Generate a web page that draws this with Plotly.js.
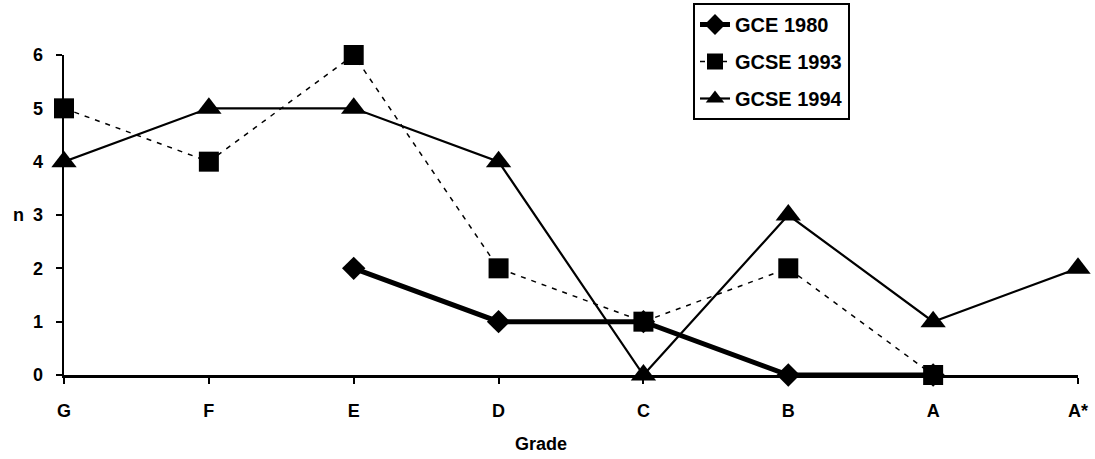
<!DOCTYPE html>
<html>
<head>
<meta charset="utf-8">
<script src="https://cdn.plot.ly/plotly-3.0.1.min.js"></script>
<style>html,body{margin:0;padding:0;background:#fff;}#chart{width:1095px;height:459px;}</style>
</head>
<body>
<div id="chart"></div>
<script>
const grades = ["G", "F", "E", "D", "C", "B", "A", "A*"];
const gce1980 = [null, null, 2, 1, 1, 0, 0, null];
const gcse1993 = [5, 4, 6, 2, 1, 2, 0, null];
const gcse1994 = [4, 5, 5, 4, 0, 3, 1, 2];
const seriesNames = ["GCE 1980", "GCSE 1993", "GCSE 1994"];
const yTicks = [0, 1, 2, 3, 4, 5, 6];

const fam = "Liberation Sans, Arial, sans-serif";
const tickFont = {family: fam, size: 18, color: "#000", weight: "bold"};

const traces = [
  {x: grades, y: gce1980, name: seriesNames[0], mode: "lines+markers", legendgroup: "a",
   line: {color: "#000", width: 5}, marker: {symbol: "diamond", size: 18, color: "#000"}, cliponaxis: false},
  {x: grades, y: gcse1993, name: seriesNames[1], mode: "lines+markers", legendgroup: "b",
   line: {color: "#000", width: 1.5, dash: "5px,6px"}, marker: {symbol: "square", size: 20, color: "#000"}, cliponaxis: false},
  {x: grades, y: gcse1994, name: seriesNames[2], mode: "lines+markers", legendgroup: "c",
   line: {color: "#000", width: 2.2}, marker: {symbol: "triangle-up", size: 22, color: "#000"}, cliponaxis: false}
];

const layout = {
  width: 1095, height: 459,
  margin: {l: 64, r: 17, t: 55, b: 84, autoexpand: false},
  paper_bgcolor: "#fff", plot_bgcolor: "#fff",
  font: tickFont,
  showlegend: true,
  legend: {
    x: (693 - 64) / 1014, y: (375 - 3) / 320, xanchor: "left", yanchor: "top",
    bordercolor: "#000", borderwidth: 2, bgcolor: "#fff",
    font: {family: fam, size: 20, color: "#000", weight: "bold"},
    traceorder: "grouped", tracegroupgap: 8, itemwidth: 30
  },
  xaxis: {
    type: "category", categoryorder: "array", categoryarray: grades,
    range: [0, 7], showgrid: false, zeroline: false,
    showline: true, linecolor: "#000", linewidth: 2.5,
    ticks: "outside", ticklen: 6, tickwidth: 2, tickcolor: "#000",
    ticklabelstandoff: 12,
    tickfont: tickFont
  },
  yaxis: {
    range: [0, 6], tickvals: yTicks, showgrid: false, zeroline: false,
    showline: true, linecolor: "#000", linewidth: 2.5,
    ticks: "outside", ticklen: 6, tickwidth: 2, tickcolor: "#000",
    ticklabelstandoff: 9,
    tickfont: tickFont
  },
  annotations: [
    {text: "n", xref: "paper", yref: "y", x: (11 - 64) / 1014, y: 3, xanchor: "left", yanchor: "middle", showarrow: false,
     font: tickFont},
    {text: "Grade", xref: "paper", yref: "paper", x: (541 - 64) / 1014, y: -0.215, xanchor: "center", yanchor: "middle", showarrow: false,
     font: tickFont}
  ]
};

Plotly.newPlot("chart", traces, layout, {displayModeBar: false, staticPlot: true});
</script>
</body>
</html>
